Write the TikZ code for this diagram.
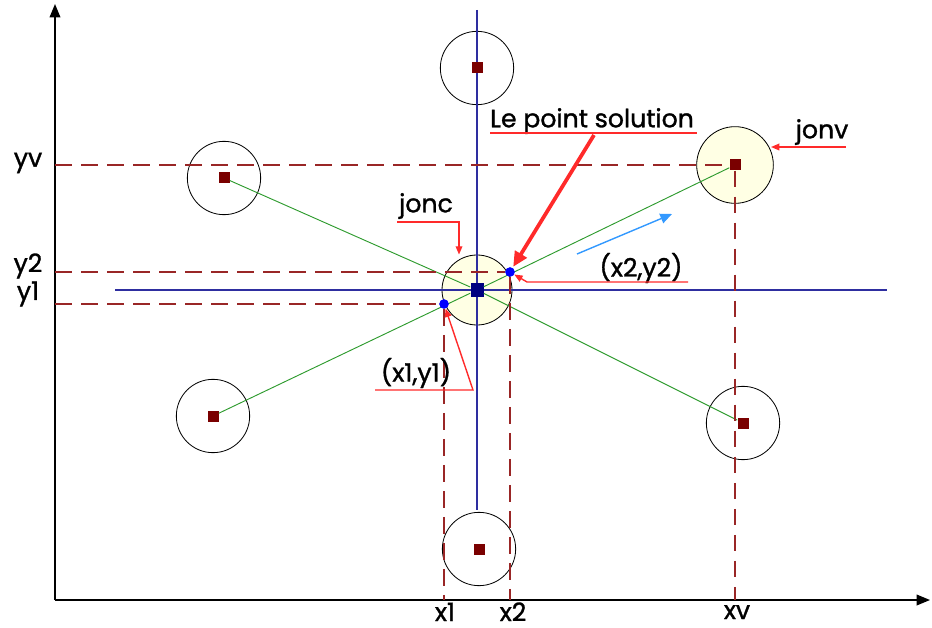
\documentclass[tikz,border=0pt]{standalone}
\usepackage{fontspec}
\setmainfont{Poppins}[RawFeature={embolden=1.2}]
\usetikzlibrary{arrows.meta,positioning,calc}
\definecolor{axblue}{HTML}{2E2EA0}
\definecolor{jgreen}{HTML}{2E9B2E}
\definecolor{guidered}{HTML}{992626}
\definecolor{ptred}{HTML}{7A0000}
\definecolor{leadred}{HTML}{FF2A2A}
\definecolor{jfill}{HTML}{FFFFE4}
\definecolor{skyblue}{HTML}{3399FF}

\tikzset{
  ring/.style={circle, draw=black, line width=0.7pt, minimum size=2.2cm, inner sep=0},
  pt/.style={rectangle, fill=ptred, minimum size=0.33cm, inner sep=0},
  solpt/.style={circle, fill=blue, minimum size=0.28cm, inner sep=0},
  guide/.style={guidered, line width=1pt, dash pattern=on 0.5cm off 0.28cm},
  leader/.style={leadred, line width=1.2pt},
  lbl/.style={inner sep=0, text=black}
}

\begin{document}
\begin{tikzpicture}[x=0.03cm, y=-0.03cm, font=\fontsize{21.5}{24}\selectfont]
\useasboundingbox (0,0) rectangle (932,628);

% Axes
\coordinate (O) at (55,600);
\coordinate (ytop) at (55,4);
\coordinate (xend) at (930,600);
\draw[line width=1.2pt, -{Triangle[length=0.4cm,width=0.32cm]}] (O) -- (ytop);
\draw[line width=1.2pt, -{Triangle[length=0.4cm,width=0.32cm]}] (O) -- (xend);

% Circles (jonc, jonv and the others)
\foreach \n/\x/\y in {top/477/68, tl/224/178, bl/213/416, bot/479/549, br/743/423}
  \node[ring] (\n ring) at (\x,\y) {};
\node[ring, fill=jfill, minimum size=2.3cm] (tr ring) at (735,165) {};
\node[ring, fill=jfill, minimum size=2.1cm] (jc) at (477,290) {};

% Blue cross through the centre
\coordinate (vtop) at (477,10);
\coordinate (vbot) at (477,510);
\coordinate (hleft) at (115,290);
\coordinate (hright) at (887,290);
\draw[axblue, line width=1.1pt] (vtop) -- (vbot);
\draw[axblue, line width=1.1pt] (hleft) -- (hright);

% Points
\foreach \n/\x/\y in {top/477/68, tl/224/178, bl/213/416, bot/479/549, br/743/423, tr/735/165}
  \node[pt] (\n) at (\x,\y) {};
\node[rectangle, fill=blue!50!black, minimum size=0.39cm, inner sep=0] (c) at (477,290) {};

% Green links
\draw[jgreen, line width=0.8pt] (tl) -- (c) -- (br);
\draw[jgreen, line width=0.8pt] (bl) -- (c) -- (tr);

% Guides
\coordinate (ayv) at (55,165);
\coordinate (ay2) at (55,272);
\coordinate (ay1) at (55,304);
\coordinate (axv) at (735,600);
\coordinate (ax2) at (510,600);
\coordinate (ax1) at (444,600);
\node[solpt] (p2) at (510,272) {};
\node[solpt] (p1) at (444,304) {};
\draw[guide] (ayv) -- (tr.west);
\draw[guide] (tr.south) -- (axv);
\draw[guide] (ay2) -- (p2.west);
\draw[guide] (p2.south) -- (ax2);
\draw[guide] (ay1) -- (p1.west);
\draw[guide] (p1.south) -- (ax1);
\node[solpt] at (p2) {};
\node[solpt] at (p1) {};

% Axis labels
\node[lbl] (lyv) at (28,163) {yv};
\node[lbl] (ly2) at (28,266) {y2};
\node[lbl] (ly1) at (28,294) {y1};
\node[lbl, anchor=base] (lx1) at (445,621) {x1};
\node[lbl, anchor=base] (lx2) at (513,621) {x2};
\node[lbl, anchor=base] (lxv) at (737,619) {xv};

% Le point solution
\node[lbl] (sol) at (592,121) {Le point solution};
\coordinate (sola) at (490,133);
\coordinate (solb) at (697,133);
\coordinate (solc) at (594,135);
\draw[leader] (sola) -- (solb);
\draw[leadred, line width=3.2pt, shorten >=1pt, -{Triangle[length=0.45cm,width=0.4cm]}] (solc) -- (p2);

% jonc
\node[lbl] (ljc) at (426,206) {jonc};
\coordinate (jca) at (397,222);
\coordinate (jcb) at (459,222);
\draw[leader, -{Triangle[length=0.25cm,width=0.2cm]}] (jca) -- (jcb) -- (jcb |- jc.north);

% jonv
\node[lbl] (ljv) at (822,132) {jonv};
\coordinate (jva) at (846,147);
\coordinate (jvb) at (771,147);
\draw[leader, -{Triangle[length=0.25cm,width=0.2cm]}] (jva) -- (jvb);

% (x2,y2)
\node[lbl] (lp2) at (641,268) {(x2,y2)};
\coordinate (q2a) at (688,282);
\coordinate (q2b) at (527,282);
\draw[leader, -{Triangle[length=0.25cm,width=0.2cm]}] (q2a) -- (q2b) -- (p2);

% (x1,y1)
\node[lbl] (lp1) at (416,373) {(x1,y1)};
\coordinate (q1a) at (375,390);
\coordinate (q1b) at (473,390);
\draw[leader, -{Triangle[length=0.25cm,width=0.2cm]}] (q1a) -- (q1b) -- (p1);

% Direction
\coordinate (va) at (577,254);
\coordinate (vb) at (672,214);
\draw[skyblue, line width=1.2pt, -{Triangle[length=0.35cm,width=0.3cm]}] (va) -- (vb);

\end{tikzpicture}
\end{document}
